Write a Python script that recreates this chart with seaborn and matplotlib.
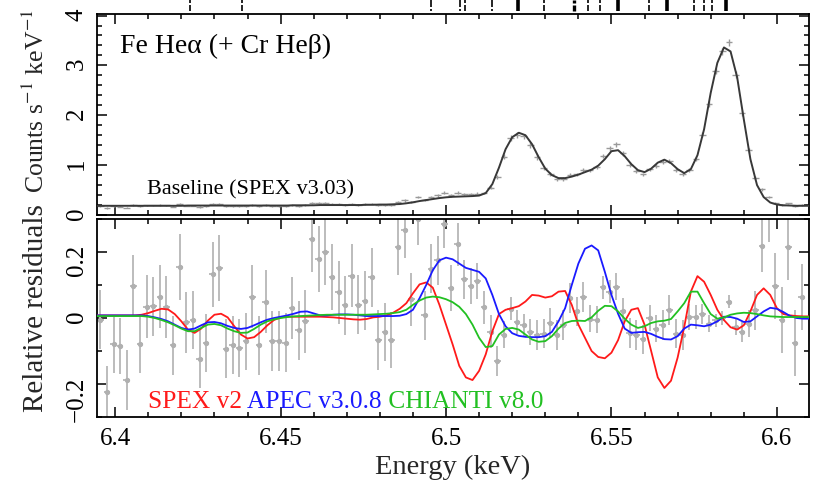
import numpy as np
import matplotlib
matplotlib.use('Agg')
import matplotlib.pyplot as plt
from matplotlib.ticker import MultipleLocator, FuncFormatter
import seaborn as sns
import pandas as pd

# ---------------- data ----------------
# model grid (keV)
model_energy = np.round(np.arange(6.394, 6.6101, 0.002), 3)
# data bin centres (keV)
data_energy = np.round(6.3955 + 0.002 * np.arange(107), 4)

baseline_model = [
    0.185, 0.185, 0.185, 0.185, 0.185, 0.185, 0.185, 0.185, 0.185, 0.185,
    0.185, 0.185, 0.185, 0.185, 0.19, 0.19, 0.19, 0.19, 0.19, 0.19,
    0.19, 0.19, 0.19, 0.19, 0.19, 0.19, 0.19, 0.19, 0.19, 0.19,
    0.195, 0.195, 0.195, 0.195, 0.2, 0.2, 0.2, 0.2, 0.2, 0.2,
    0.2, 0.205, 0.205, 0.21, 0.21, 0.215, 0.22, 0.235, 0.255, 0.28,
    0.3, 0.32, 0.34, 0.355, 0.365, 0.37, 0.375, 0.38, 0.39, 0.44,
    0.62, 0.95, 1.32, 1.56, 1.65, 1.6, 1.42, 1.16, 0.93, 0.8,
    0.74, 0.74, 0.77, 0.81, 0.86, 0.91, 0.99, 1.12, 1.28, 1.3,
    1.18, 1.02, 0.9, 0.86, 0.93, 1.05, 1.11, 1.04, 0.92, 0.84,
    0.92, 1.2, 1.72, 2.45, 3.05, 3.36, 3.28, 2.76, 1.92, 1.12,
    0.6, 0.36, 0.25, 0.21, 0.195, 0.19, 0.185, 0.185, 0.185]

spex_v2 = [
    0.008, 0.008, 0.008, 0.008, 0.008, 0.008, 0.008, 0.01, 0.015, 0.022,
    0.028, 0.026, 0.012, -0.01, -0.035, -0.045, -0.032, -0.008, 0.01, 0.013,
    0.002, -0.025, -0.05, -0.062, -0.058, -0.042, -0.022, -0.006, 0.002, 0.004,
    0.004, 0.004, 0.004, 0.004, 0.004, 0.003, 0.002, 0.0, -0.002, -0.004,
    -0.005, -0.003, 0.002, 0.004, 0.008, 0.016, 0.028, 0.045, 0.075, 0.102,
    0.108, 0.092, 0.04, -0.02, -0.08, -0.145, -0.18, -0.188, -0.16, -0.11,
    -0.04, 0.012, 0.025, 0.03, 0.036, 0.05, 0.07, 0.068, 0.062, 0.066,
    0.08, 0.082, 0.04, -0.02, -0.06, -0.1, -0.118, -0.122, -0.105, -0.067,
    -0.01, 0.025, 0.03, -0.02, -0.1, -0.18, -0.212, -0.19, -0.12, -0.027,
    0.08, 0.127, 0.11, 0.07, 0.025, -0.006, -0.028, -0.035, -0.022, 0.02,
    0.07, 0.09, 0.07, 0.03, 0.012, 0.008, 0.006, 0.005, 0.005]

apec_v308 = [
    0.008, 0.008, 0.008, 0.008, 0.008, 0.008, 0.008, 0.008, 0.006, 0.002,
    -0.003, -0.01, -0.02, -0.03, -0.035, -0.032, -0.022, -0.013, -0.012, -0.016,
    -0.024, -0.03, -0.033, -0.03, -0.022, -0.013, -0.005, 0.0, 0.004, 0.008,
    0.013, 0.019, 0.02, 0.014, 0.008, 0.008, 0.01, 0.011, 0.011, 0.01,
    0.008, 0.006, 0.006, 0.006, 0.006, 0.006, 0.007, 0.012, 0.025, 0.06,
    0.1, 0.145, 0.175, 0.183, 0.178, 0.165, 0.152, 0.146, 0.14, 0.12,
    0.07, 0.012, -0.025, -0.046, -0.054, -0.057, -0.058, -0.058, -0.055, -0.042,
    -0.01, 0.03, 0.1, 0.165, 0.21, 0.22, 0.205, 0.14, 0.07, 0.013,
    -0.032, -0.045, -0.043, -0.042, -0.048, -0.057, -0.064, -0.065, -0.055, -0.032,
    -0.02, -0.022, -0.025, -0.02, -0.01, 0.004, 0.003, -0.002, -0.012, -0.01,
    0.005, 0.02, 0.031, 0.028, 0.018, 0.006, 0.0, -0.002, -0.002]

chianti_v80 = [
    0.006, 0.006, 0.006, 0.006, 0.006, 0.006, 0.006, 0.006, 0.004, 0.0,
    -0.006, -0.013, -0.022, -0.032, -0.04, -0.04, -0.03, -0.02, -0.018, -0.022,
    -0.032, -0.04, -0.045, -0.044, -0.033, -0.02, -0.01, -0.004, 0.0, 0.003,
    0.005, 0.006, 0.007, 0.008, 0.009, 0.01, 0.01, 0.01, 0.01, 0.01,
    0.01, 0.01, 0.011, 0.012, 0.013, 0.015, 0.018, 0.025, 0.04, 0.053,
    0.062, 0.065, 0.063, 0.057, 0.048, 0.034, 0.012, -0.02, -0.06, -0.088,
    -0.085, -0.05, -0.033, -0.03, -0.035, -0.05, -0.065, -0.072, -0.07, -0.055,
    -0.032, -0.015, -0.009, -0.008, -0.009, 0.002, 0.022, 0.037, 0.036, 0.02,
    -0.002, -0.02, -0.03, -0.025, -0.015, -0.01, -0.008, -0.003, 0.02, 0.045,
    0.08, 0.08, 0.045, 0.012, -0.002, 0.002, 0.01, 0.014, 0.016, 0.015,
    0.012, 0.008, 0.005, 0.004, 0.003, 0.003, 0.003, 0.003, 0.003]

data_counts = [
    0.184, 0.144, 0.171, 0.169, 0.150, 0.203, 0.171, 0.191, 0.191, 0.197,
    0.191, 0.170, 0.218, 0.188, 0.189, 0.167, 0.176, 0.215, 0.219, 0.172,
    0.175, 0.173, 0.177, 0.202, 0.174, 0.200, 0.177, 0.177, 0.176, 0.200,
    0.188, 0.193, 0.242, 0.234, 0.240, 0.225, 0.216, 0.208, 0.226, 0.208,
    0.215, 0.230, 0.195, 0.201, 0.200, 0.266, 0.292, 0.264, 0.356, 0.297,
    0.362, 0.394, 0.451, 0.395, 0.451, 0.418, 0.416, 0.431, 0.441, 0.551,
    0.755, 1.166, 1.542, 1.608, 1.577, 1.403, 1.161, 0.941, 0.820, 0.716,
    0.724, 0.808, 0.816, 0.901, 0.896, 0.965, 1.189, 1.339, 1.418, 1.234,
    1.012, 0.882, 0.813, 0.913, 0.987, 1.071, 1.084, 0.905, 0.815, 0.903,
    1.133, 1.611, 2.229, 2.880, 3.283, 3.465, 2.812, 2.040, 1.298, 0.747,
    0.512, 0.366, 0.242, 0.198, 0.232, 0.172, 0.197]

data_counts_err = [
    0.017, 0.017, 0.017, 0.017, 0.017, 0.017, 0.017, 0.017, 0.017, 0.017,
    0.017, 0.017, 0.017, 0.017, 0.017, 0.017, 0.017, 0.017, 0.017, 0.017,
    0.017, 0.017, 0.017, 0.017, 0.017, 0.017, 0.017, 0.017, 0.017, 0.017,
    0.018, 0.018, 0.018, 0.018, 0.018, 0.018, 0.018, 0.018, 0.018, 0.018,
    0.018, 0.018, 0.018, 0.018, 0.018, 0.02, 0.022, 0.021, 0.022, 0.022,
    0.024, 0.025, 0.026, 0.025, 0.024, 0.022, 0.021, 0.021, 0.021, 0.029,
    0.039, 0.049, 0.053, 0.057, 0.056, 0.059, 0.055, 0.044, 0.037, 0.034,
    0.033, 0.034, 0.036, 0.038, 0.036, 0.034, 0.038, 0.05, 0.052, 0.048,
    0.048, 0.042, 0.039, 0.037, 0.041, 0.049, 0.048, 0.043, 0.039, 0.036,
    0.04, 0.048, 0.057, 0.058, 0.066, 0.066, 0.072, 0.064, 0.053, 0.044,
    0.034, 0.025, 0.022, 0.02, 0.019, 0.019, 0.019]

residuals = [
    -0.005, -0.224, -0.078, -0.085, -0.188, 0.097, -0.078, 0.034, 0.035, 0.065,
    0.034, -0.083, 0.154, -0.013, -0.005, -0.123, -0.076, 0.132, 0.152, -0.093,
    -0.081, -0.091, -0.071, 0.065, -0.083, 0.05, -0.07, -0.07, -0.075, 0.03,
    -0.037, -0.01, 0.239, 0.178, 0.2, 0.123, 0.078, 0.038, 0.128, 0.041,
    0.053, 0.123, -0.067, -0.042, -0.067, 0.216, 0.266, 0.057, 0.3, 0.008,
    0.15, 0.175, 0.286, 0.09, 0.223, 0.117, 0.097, 0.113, 0.032, -0.042,
    -0.13, -0.05, 0.028, -0.012, -0.022, -0.042, -0.052, -0.047, -0.015, -0.052,
    -0.022, 0.06, 0.02, 0.063, -0.002, -0.005, 0.093, 0.08, 0.095, 0.02,
    -0.045, -0.052, -0.065, 0.0, -0.032, -0.022, 0.025, -0.047, -0.052, 0.003,
    0.003, 0.013, -0.017, -0.007, 0.0, 0.05, -0.027, -0.042, -0.017, 0.023,
    0.219, 0.32, 0.098, -0.007, 0.214, -0.077, 0.065]

residuals_err = [
    0.09, 0.08, 0.088, 0.085, 0.09, 0.095, 0.09, 0.095, 0.088, 0.095,
    0.093, 0.09, 0.1, 0.093, 0.088, 0.088, 0.088, 0.098, 0.1, 0.09,
    0.088, 0.088, 0.085, 0.095, 0.09, 0.095, 0.09, 0.09, 0.09, 0.093,
    0.09, 0.095, 0.1, 0.1, 0.1, 0.1, 0.095, 0.09, 0.095, 0.09,
    0.09, 0.09, 0.09, 0.088, 0.085, 0.085, 0.085, 0.08, 0.08, 0.075,
    0.075, 0.075, 0.075, 0.07, 0.065, 0.06, 0.055, 0.055, 0.05, 0.05,
    0.045, 0.04, 0.035, 0.035, 0.035, 0.04, 0.045, 0.045, 0.045, 0.045,
    0.045, 0.045, 0.045, 0.045, 0.04, 0.04, 0.035, 0.035, 0.04, 0.04,
    0.045, 0.045, 0.045, 0.04, 0.04, 0.045, 0.045, 0.045, 0.045, 0.04,
    0.035, 0.03, 0.025, 0.02, 0.02, 0.02, 0.025, 0.03, 0.04, 0.06,
    0.08, 0.09, 0.1, 0.1, 0.1, 0.1, 0.1]

# line identification marks above the top panel
line_energies = [6.4227, 6.4382, 6.4955, 6.5043, 6.5058, 6.5140, 6.5217, 6.5295,
                 6.5388, 6.5429, 6.5464, 6.5520, 6.5613, 6.5668, 6.5750, 6.5780,
                 6.5804, 6.5846]
line_kinds = ['i', 'i', '!', '!', 'i', '!', 'bar', 'i', 'I', 'i', 'i', 'bar',
              'i', 'bar', 'i', 'i', 'i', 'bar']

model_names = ['SPEX v2', 'APEC v3.0.8', 'CHIANTI v8.0']
model_colors = ['#ff1a1a', '#1a1aff', '#22c022']

# ---------------- style ----------------
sns.set_theme(style='ticks')
plt.rcParams['font.family'] = ['Liberation Serif', 'DejaVu Serif']
plt.rcParams['mathtext.fontset'] = 'stix'
plt.rcParams['axes.unicode_minus'] = True

df_model = pd.DataFrame({'energy': model_energy, 'baseline': baseline_model,
                         'SPEX v2': spex_v2, 'APEC v3.0.8': apec_v308,
                         'CHIANTI v8.0': chianti_v80})

fig = plt.figure(figsize=(8.15, 4.85), dpi=100)
ax1 = fig.add_axes([0.1190, 0.5546, 0.8736, 0.4144])
ax2 = fig.add_axes([0.1190, 0.1381, 0.8736, 0.4082])

# top panel
ax1.errorbar(data_energy, data_counts, xerr=0.001, yerr=data_counts_err,
             fmt='none', ecolor='#9a9a9a', elinewidth=1.0, capsize=0, zorder=2)
sns.lineplot(data=df_model, x='energy', y='baseline', ax=ax1, color='#383838',
             lw=1.4, zorder=3)

# bottom panel
ax2.errorbar(data_energy, residuals, xerr=0.001, yerr=residuals_err,
             fmt='o', ms=2.8, mfc='#b0b0b0', mec='#b0b0b0', ecolor='#bcbcbc',
             elinewidth=1.4, capsize=0, zorder=2)
for name, col in zip(model_names, model_colors):
    sns.lineplot(data=df_model, x='energy', y=name, ax=ax2, color=col,
                 lw=1.3, zorder=3)


def fmt_num(v, pos):
    v = round(v, 6)
    if v == 0:
        return '0'
    return f'{v:g}'.replace('-', '\u2212')


for ax in (ax1, ax2):
    ax.set_xlim(6.3945, 6.6097)
    ax.xaxis.set_major_locator(MultipleLocator(0.05))
    ax.xaxis.set_minor_locator(MultipleLocator(0.01))
    ax.tick_params(which='both', direction='in', top=True, right=True,
                   width=1.1, color='black', labelcolor='black')
    ax.tick_params(which='major', length=7)
    ax.tick_params(which='minor', length=3.6)
    ax.tick_params(axis='y', labelrotation=90, pad=6.5, labelsize=18)
    ax.tick_params(axis='x', pad=7, labelsize=18)
    for s in ax.spines.values():
        s.set_linewidth(1.3)
        s.set_color('black')
    ax.yaxis.set_major_formatter(FuncFormatter(fmt_num))
    ax.set_xlabel('')
    ax.set_ylabel('')

ax1.set_ylim(0, 4.03)
ax1.yaxis.set_major_locator(MultipleLocator(1))
ax1.yaxis.set_minor_locator(MultipleLocator(0.2))
ax1.tick_params(labelbottom=False)

ax2.set_ylim(-0.3, 0.3)
ax2.yaxis.set_major_locator(MultipleLocator(0.2))
ax2.yaxis.set_minor_locator(MultipleLocator(0.1))
ax2.xaxis.set_major_formatter(FuncFormatter(fmt_num))

ax1.set_ylabel('Counts s$^{-1}$ keV$^{-1}$', fontsize=18.5)
ax1.yaxis.label.set_verticalalignment('center')
ax1.yaxis.set_label_coords(-0.086, 0.57)
ax2.set_ylabel('Relative residuals', fontsize=21)
ax2.yaxis.label.set_verticalalignment('center')
ax2.yaxis.set_label_coords(-0.086, 0.555)
ax2.set_xlabel('Energy (keV)', fontsize=20.5)
ax2.xaxis.label.set_verticalalignment('center')
ax2.xaxis.set_label_coords(0.5, -0.25)

# annotations
ax1.text(0.032, 0.811, 'Fe He\u03b1 (+ Cr He\u03b2)', transform=ax1.transAxes,
         fontsize=20, va='baseline', ha='left', color='black')
ax1.text(0.070, 0.109, 'Baseline (SPEX v3.03)', transform=ax1.transAxes,
         fontsize=16, va='baseline', ha='left', color='black')

t = ax2.text(0.0716, 0.05, model_names[0], transform=ax2.transAxes,
             fontsize=18.3, va='baseline', ha='left', color=model_colors[0])
for name, col in zip(model_names[1:], model_colors[1:]):
    t = ax2.annotate(' ' + name, xy=(1, 0), xycoords=t, fontsize=18.3,
                     va='bottom', ha='left', color=col)

# line identification marks
trans = ax1.get_xaxis_transform()


def py(px):
    return 1 + (15 - px) / 201.0


for e, kind in zip(line_energies, line_kinds):
    if kind == 'bar':
        ax1.plot([e, e], [py(12), py(1)], transform=trans, color='black',
                 lw=2.6, clip_on=False, solid_capstyle='butt')
    elif kind in ('i', 'I'):
        w = 1.2 if kind == 'i' else 2.4
        ax1.plot([e, e], [py(3.5), py(1)], transform=trans, color='black',
                 lw=w, clip_on=False, solid_capstyle='butt')
        ax1.plot([e, e], [py(12), py(5.5)], transform=trans, color='black',
                 lw=w, clip_on=False, solid_capstyle='butt')
    else:
        ax1.plot([e, e], [py(8), py(1)], transform=trans, color='black',
                 lw=1.2, clip_on=False, solid_capstyle='butt')
        ax1.plot([e, e], [py(12), py(9.5)], transform=trans, color='black',
                 lw=1.2, clip_on=False, solid_capstyle='butt')

fig.savefig('out.png', dpi=100)
